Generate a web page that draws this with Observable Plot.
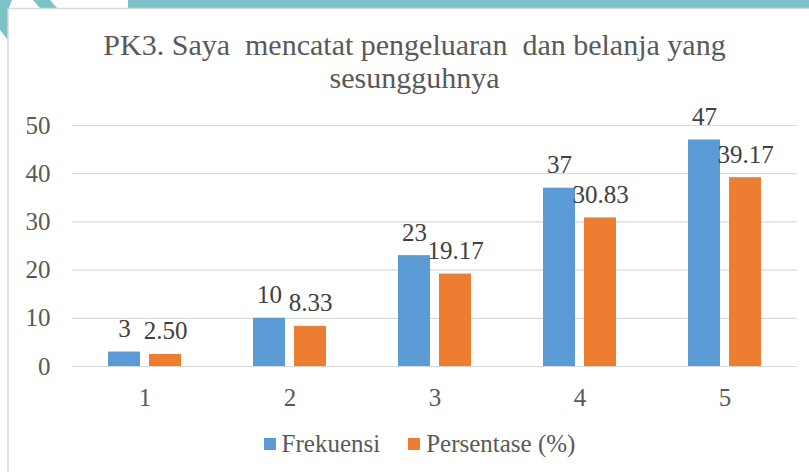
<!DOCTYPE html>
<html>
<head>
<meta charset="utf-8">
<script src="https://cdn.jsdelivr.net/npm/d3@7"></script>
<script src="https://cdn.jsdelivr.net/npm/@observablehq/plot@0.6"></script>
<style>
  html, body { margin: 0; padding: 0; background: #fff; }
  #wrap { position: relative; width: 809px; height: 472px; overflow: hidden; background: #fff; font-family: "Liberation Serif", Tinos, "Times New Roman", Times, "DejaVu Serif", "Noto Serif", serif; }
  #deco { position: absolute; left: 0; top: 0; }
  #title { position: absolute; left: 20px; width: 789px; top: 28px; text-align: center; font-size: 30px; line-height: 33px; color: #595959; white-space: pre; }
  #chart { position: absolute; left: 0; top: 100px; }
  #legend { position: absolute; left: 0; width: 809px; top: 430px; display: flex; justify-content: center; align-items: center; font-size: 25px; color: #595959; padding-left: 30px; box-sizing: border-box; }
  .item { display: flex; align-items: center; margin: 0 14px; }
  .sw { width: 12px; height: 12px; margin-right: 6px; }
</style>
</head>
<body>
<div id="wrap">
  <svg id="deco" width="809" height="472">
    <rect x="128" y="0" width="681" height="8" fill="#7cc2c8"></rect>
    <polygon points="0,0 12,0 8,10 8,40 0,30" fill="#7cc2c8"></polygon>
    <polygon points="33,0 50,0 57,8 40,8" fill="#7cc2c8"></polygon>
    <line x1="8" y1="8.5" x2="809" y2="8.5" stroke="#d9d9d9" stroke-width="1.5"></line>
    <line x1="8" y1="8" x2="8" y2="472" stroke="#d9d9d9" stroke-width="1.5"></line>
  </svg>
  <div id="title">PK3. Saya  mencatat pengeluaran  dan belanja yang
sesungguhnya</div>
  <div id="chart"></div>
  <div id="legend"></div>
</div>
<script>
const categories = ["1", "2", "3", "4", "5"];
const frekuensi = [3, 10, 23, 37, 47];
const persentase = [2.50, 8.33, 19.17, 30.83, 39.17];
const seriesNames = ["Frekuensi", "Persentase (%)"];
const seriesColors = ["#5b9bd5", "#ed7d31"];
const yTicks = [0, 10, 20, 30, 40, 50];

const data = categories.flatMap((c, i) => [
  {cat: c, series: seriesNames[0], value: frekuensi[i], label: String(frekuensi[i])},
  {cat: c, series: seriesNames[1], value: persentase[i], label: persentase[i].toFixed(2)}
]);

const serifStack = "'Liberation Serif', Tinos, 'Times New Roman', Times, 'DejaVu Serif', 'Noto Serif', serif";

const chart = Plot.plot({
  width: 809,
  height: 316,
  marginTop: 25,
  marginBottom: 50,
  marginLeft: 71,
  marginRight: 11,
  style: {fontFamily: serifStack, fontSize: "25px", color: "#595959", background: "transparent", overflow: "visible"},
  fx: {domain: categories, padding: 0, label: null},
  x: {domain: seriesNames, paddingInner: 0.214, paddingOuter: 0.839, axis: null},
  y: {domain: [0, 50], label: null},
  color: {domain: seriesNames, range: seriesColors},
  marks: [
    Plot.ruleY(yTicks, {stroke: "#d9d9d9", strokeWidth: 1.2}),
    Plot.barY(data, {fx: "cat", x: "series", y: "value", fill: "series"}),
    Plot.text(data, {fx: "cat", x: "series", y: "value", text: "label", dy: -23, fill: "#404040", fontFamily: serifStack}),
    Plot.axisY(yTicks, {tickSize: 0, tickPadding: 22, label: null, fontFamily: serifStack}),
    Plot.axisFx({anchor: "bottom", tickSize: 0, tickPadding: 22, label: null, fontFamily: serifStack})
  ]
});
document.getElementById("chart").appendChild(chart);

const legend = d3.select("#legend");
seriesNames.forEach((s, i) => {
  const it = legend.append("div").attr("class", "item");
  it.append("div").attr("class", "sw").style("background", seriesColors[i]);
  it.append("span").text(s);
});
</script>
</body>
</html>
